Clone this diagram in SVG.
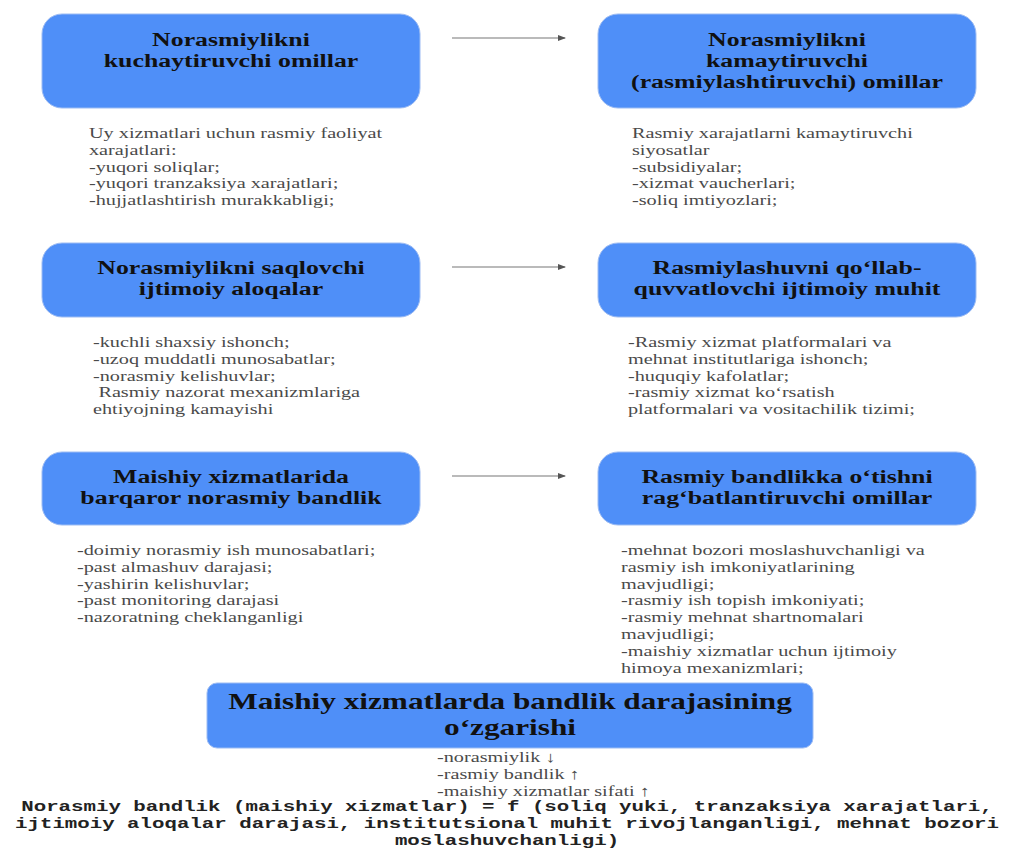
<svg xmlns="http://www.w3.org/2000/svg" width="1010" height="849" viewBox="0 0 1010 849">
<style>
.box{fill:#4f8ff8;stroke:#9dbcf3;stroke-width:1}
.title{font-family:"Liberation Serif",serif;font-weight:bold;font-size:19px;fill:#111;text-anchor:middle}
.big{font-family:"Liberation Serif",serif;font-weight:bold;font-size:23px;fill:#111;text-anchor:middle}
.body{font-family:"Liberation Serif",serif;font-size:15px;fill:#4a4a4a}
.formula{font-family:"Liberation Mono",monospace;font-weight:bold;font-size:15.5px;fill:#222;text-anchor:middle}
.conn{stroke:#777;stroke-width:1.2;fill:none}
</style>
<defs>
<marker id="ah" markerWidth="8" markerHeight="6" refX="7" refY="3" orient="auto" markerUnits="userSpaceOnUse">
<path d="M0,0 L8,3 L0,6 Z" fill="#555"/>
</marker>
</defs>
<rect width="1010" height="849" fill="#fff"/>
<g id="connectors">
<line class="conn" x1="452" y1="38" x2="565" y2="38" marker-end="url(#ah)"/>
<line class="conn" x1="452" y1="267" x2="565" y2="267" marker-end="url(#ah)"/>
<line class="conn" x1="452" y1="476" x2="565" y2="476" marker-end="url(#ah)"/>
</g>
<g id="n1">
<rect class="box" x="42" y="14" width="378" height="94" rx="20"/>
<text class="title" transform="translate(231,46) scale(1.36,1)"><tspan x="0">Norasmiylikni</tspan><tspan x="0" dy="21">kuchaytiruvchi omillar</tspan></text>
<text class="body" transform="translate(89,138) scale(1.35,1)"><tspan x="0">Uy xizmatlari uchun rasmiy faoliyat</tspan><tspan x="0" dy="16.8">xarajatlari:</tspan><tspan x="0" dy="16.8">-yuqori soliqlar;</tspan><tspan x="0" dy="16.8">-yuqori tranzaksiya xarajatlari;</tspan><tspan x="0" dy="16.8">-hujjatlashtirish murakkabligi;</tspan></text>
</g>
<g id="n2">
<rect class="box" x="598" y="14" width="378" height="94" rx="20"/>
<text class="title" transform="translate(787,46) scale(1.36,1)"><tspan x="0">Norasmiylikni</tspan><tspan x="0" dy="21">kamaytiruvchi</tspan><tspan x="0" dy="21">(rasmiylashtiruvchi) omillar</tspan></text>
<text class="body" transform="translate(632,138) scale(1.35,1)"><tspan x="0">Rasmiy xarajatlarni kamaytiruvchi</tspan><tspan x="0" dy="16.8">siyosatlar</tspan><tspan x="0" dy="16.8">-subsidiyalar;</tspan><tspan x="0" dy="16.8">-xizmat vaucherlari;</tspan><tspan x="0" dy="16.8">-soliq imtiyozlari;</tspan></text>
</g>
<g id="n3">
<rect class="box" x="42" y="243" width="378" height="74" rx="20"/>
<text class="title" transform="translate(231,274) scale(1.36,1)"><tspan x="0">Norasmiylikni saqlovchi</tspan><tspan x="0" dy="21">ijtimoiy aloqalar</tspan></text>
<text class="body" transform="translate(93,347) scale(1.35,1)"><tspan x="0">-kuchli shaxsiy ishonch;</tspan><tspan x="0" dy="16.8">-uzoq muddatli munosabatlar;</tspan><tspan x="0" dy="16.8">-norasmiy kelishuvlar;</tspan><tspan x="4" dy="16.8">Rasmiy nazorat mexanizmlariga</tspan><tspan x="0" dy="16.8">ehtiyojning kamayishi</tspan></text>
</g>
<g id="n4">
<rect class="box" x="598" y="243" width="378" height="74" rx="20"/>
<text class="title" transform="translate(787,274) scale(1.36,1)"><tspan x="0">Rasmiylashuvni qo‘llab-</tspan><tspan x="0" dy="21">quvvatlovchi ijtimoiy muhit</tspan></text>
<text class="body" transform="translate(628,347) scale(1.35,1)"><tspan x="0">-Rasmiy xizmat platformalari va</tspan><tspan x="0" dy="16.8">mehnat institutlariga ishonch;</tspan><tspan x="0" dy="16.8">-huquqiy kafolatlar;</tspan><tspan x="0" dy="16.8">-rasmiy xizmat ko‘rsatish</tspan><tspan x="0" dy="16.8">platformalari va vositachilik tizimi;</tspan></text>
</g>
<g id="n5">
<rect class="box" x="42" y="452" width="378" height="73" rx="20"/>
<text class="title" transform="translate(231,483) scale(1.36,1)"><tspan x="0">Maishiy xizmatlarida</tspan><tspan x="0" dy="21">barqaror norasmiy bandlik</tspan></text>
<text class="body" transform="translate(77,555) scale(1.35,1)"><tspan x="0">-doimiy norasmiy ish munosabatlari;</tspan><tspan x="0" dy="16.8">-past almashuv darajasi;</tspan><tspan x="0" dy="16.8">-yashirin kelishuvlar;</tspan><tspan x="0" dy="16.8">-past monitoring darajasi</tspan><tspan x="0" dy="16.8">-nazoratning cheklanganligi</tspan></text>
</g>
<g id="n6">
<rect class="box" x="598" y="452" width="378" height="73" rx="20"/>
<text class="title" transform="translate(787,483) scale(1.36,1)"><tspan x="0">Rasmiy bandlikka o‘tishni</tspan><tspan x="0" dy="21">rag‘batlantiruvchi omillar</tspan></text>
<text class="body" transform="translate(621,555) scale(1.35,1)"><tspan x="0">-mehnat bozori moslashuvchanligi va</tspan><tspan x="0" dy="16.8">rasmiy ish imkoniyatlarining</tspan><tspan x="0" dy="16.8">mavjudligi;</tspan><tspan x="0" dy="16.8">-rasmiy ish topish imkoniyati;</tspan><tspan x="0" dy="16.8">-rasmiy mehnat shartnomalari</tspan><tspan x="0" dy="16.8">mavjudligi;</tspan><tspan x="0" dy="16.8">-maishiy xizmatlar uchun ijtimoiy</tspan><tspan x="0" dy="16.8">himoya mexanizmlari;</tspan></text>
</g>
<g id="n7">
<rect class="box" x="207" y="683" width="606" height="65" rx="10"/>
<text class="big" transform="translate(510,709) scale(1.36,1)"><tspan x="0">Maishiy xizmatlarda bandlik darajasining</tspan><tspan x="0" dy="26">o‘zgarishi</tspan></text>
<text class="body" transform="translate(437,762) scale(1.35,1)"><tspan x="0">-norasmiylik ↓</tspan><tspan x="0" dy="16.8">-rasmiy bandlik ↑</tspan><tspan x="0" dy="16.8">-maishiy xizmatlar sifati ↑</tspan></text>
</g>
<g id="formula">
<text class="formula" transform="translate(507,811) scale(1.34,1)"><tspan x="0">Norasmiy bandlik (maishiy xizmatlar) = f (soliq yuki, tranzaksiya xarajatlari,</tspan><tspan x="0" dy="17">ijtimoiy aloqalar darajasi, institutsional muhit rivojlanganligi, mehnat bozori</tspan><tspan x="0" dy="17">moslashuvchanligi)</tspan></text>
</g>
</svg>
